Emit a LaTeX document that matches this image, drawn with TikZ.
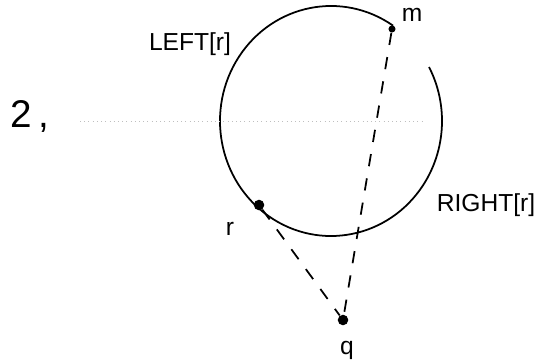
\documentclass[tikz,border=0pt]{standalone}
\usepackage{fontspec}
\setmainfont{Liberation Sans}
\usepackage{tikz}

\begin{document}
\begin{tikzpicture}[x=0.02cm, y=0.02cm]
\tikzset{
  pt/.style={circle, fill=black, inner sep=0pt, minimum size=#1},
  lbl/.style={font=\fontsize{14}{16}\selectfont},
  link/.style={line width=1pt, dash pattern=on 7pt off 7pt},
}
\useasboundingbox (0,0) rectangle (543,362);

% Circle (open near m)
\draw[line width=1pt] (331,241) ++(56:111 and 115) arc[start angle=56, end angle=388, x radius=111, y radius=115];

% Dotted line
\draw[gray!50, dotted] (80,241) -- (422,241);

% Points
\node[pt=4pt] (m) at (392,333) {};
\node[pt=6pt] (r) at (259,157) {};
\node[pt=6pt] (q) at (343,42) {};

% Labels
\node[lbl] (lm) at (412,347) {m};
\node[lbl] (lr) at (230,133) {r};
\node[lbl] (lq) at (347,12) {q};
\node[lbl] (left) at (190,318) {LEFT[r]};
\node[lbl] (right) at (486,157) {RIGHT[r]};
\node[font=\fontsize{22}{24}\selectfont] (two) at (30,246) {2\,,};

\draw[link] (m) -- (q);
\draw[link] (r) -- (q);

\end{tikzpicture}
\end{document}
